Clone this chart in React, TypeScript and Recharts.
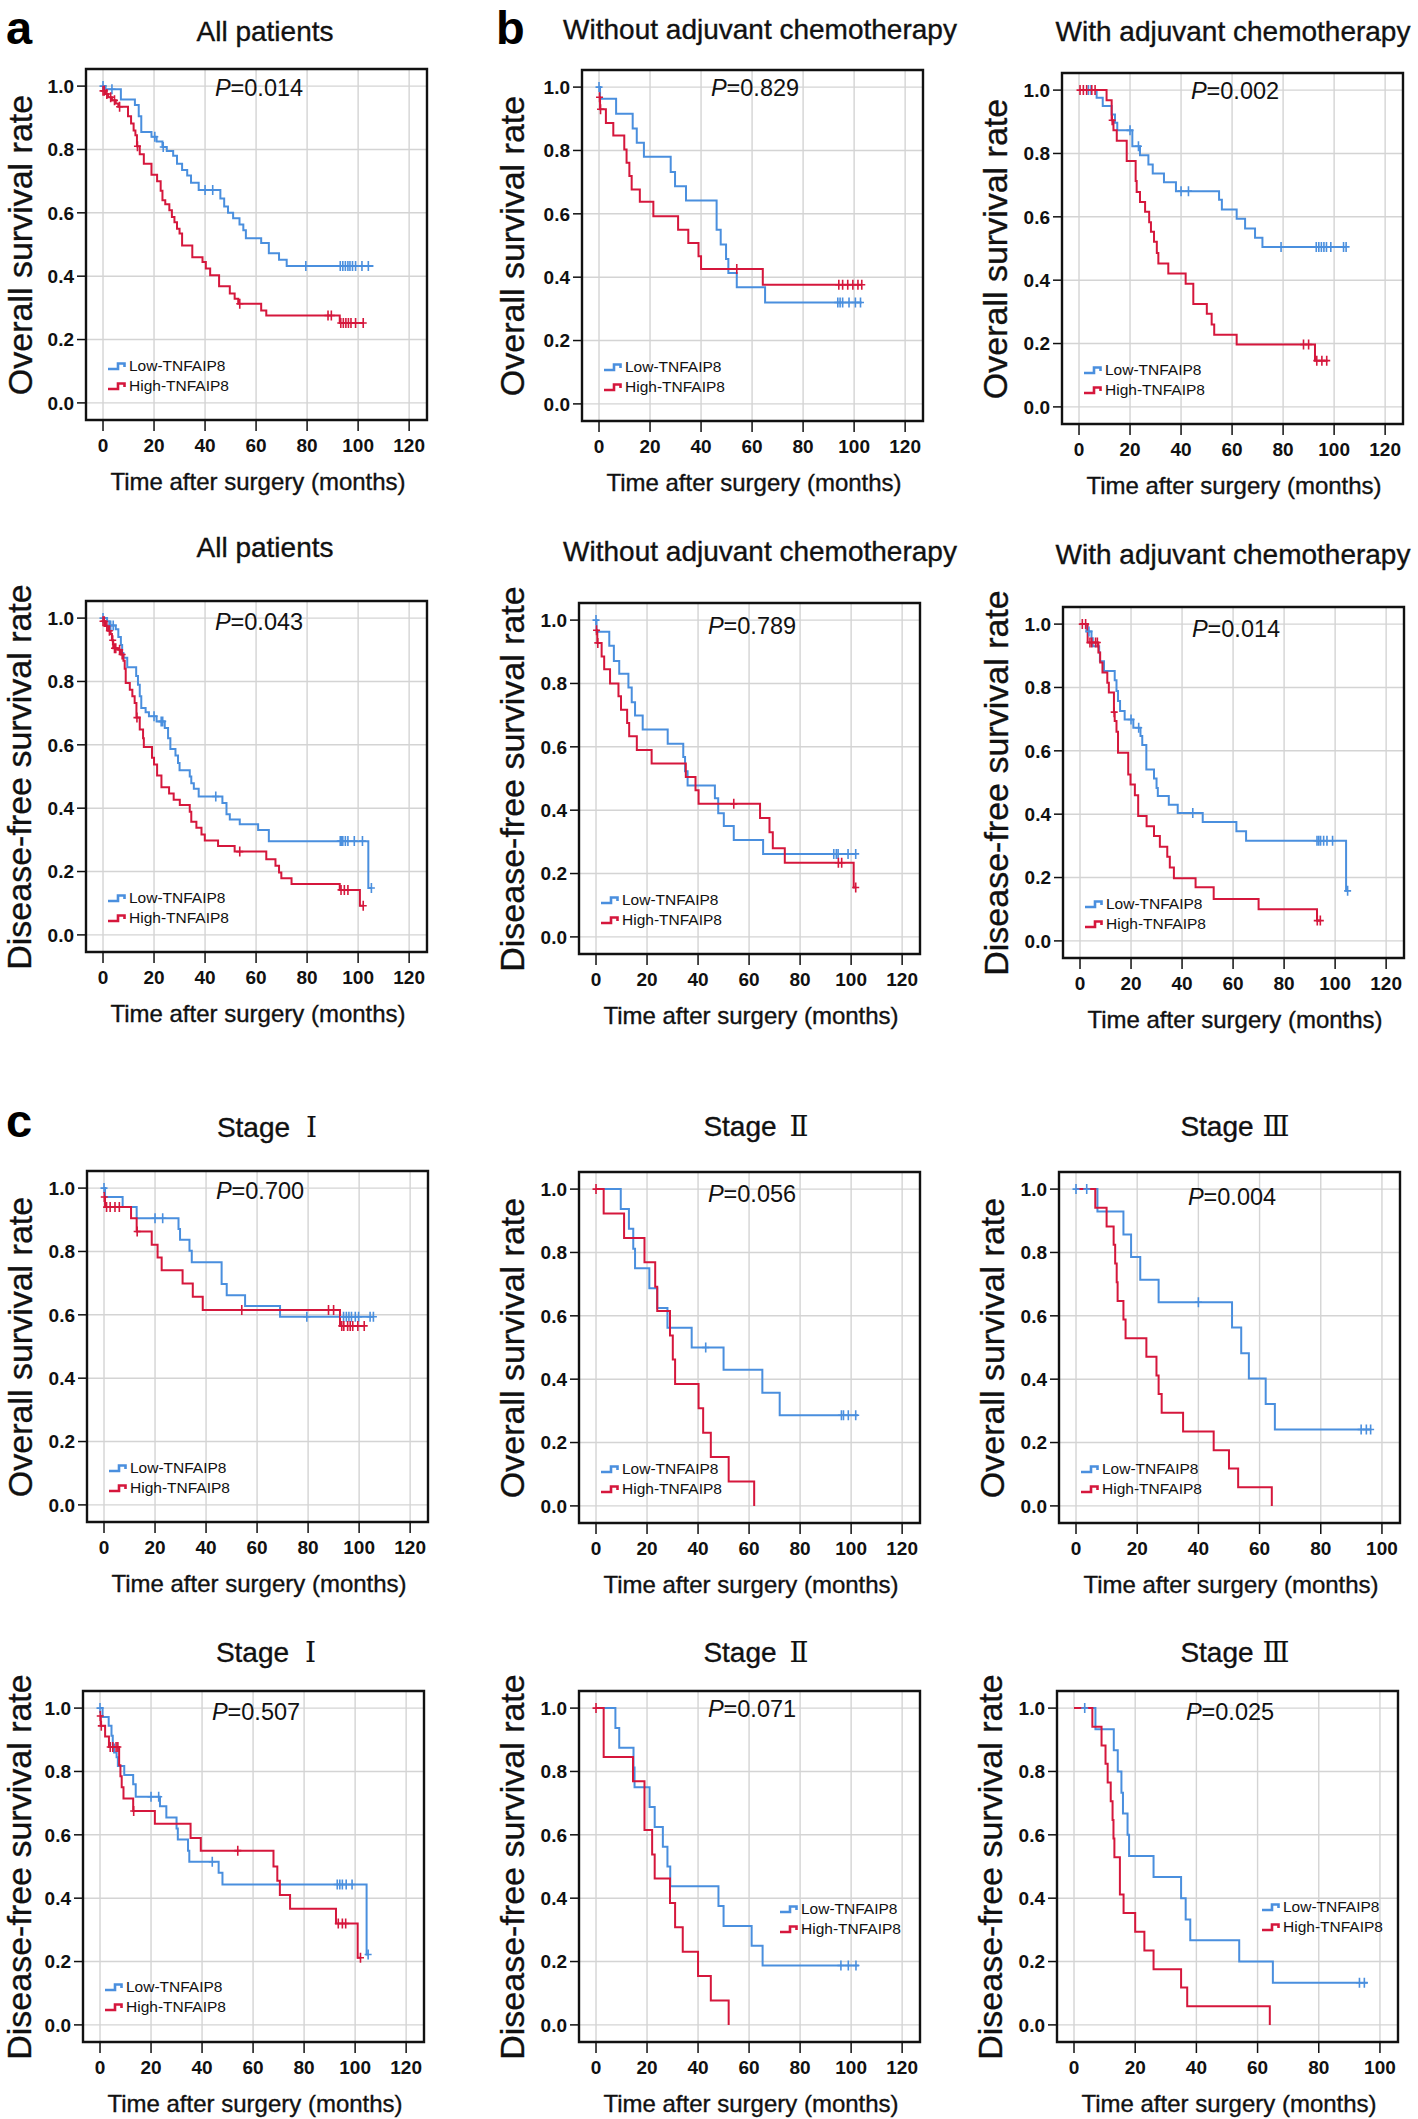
import React from "react";
import {
  CartesianGrid,
  ComposedChart,
  Line,
  ReferenceArea,
  Scatter,
  XAxis,
  YAxis,
} from "recharts";

type Pt = [number, number];

// Kaplan-Meier steps: [month, survival from that month on]; last pair = end of follow-up
// censor lists hold the months of the "+" marks

// a – OS, all patients
const osAllLow: Pt[] = [[0, 1], [1, 0.99], [7, 0.958], [12.5, 0.94], [14, 0.905], [15, 0.855], [19, 0.84], [21, 0.825], [23.3, 0.808], [25, 0.795], [27.5, 0.78], [29, 0.755], [31, 0.735], [33, 0.718], [34.5, 0.695], [37.5, 0.672], [46, 0.645], [47.5, 0.62], [49, 0.6], [51, 0.583], [53.5, 0.563], [55, 0.545], [56, 0.52], [62, 0.505], [65, 0.472], [69, 0.452], [72, 0.432], [106, 0.432]];
const osAllLowCens = [0, 3.5, 20.3, 23.6, 40, 43, 79.5, 93, 94, 95, 96, 96.8, 97.8, 99, 101.5, 104];
const osAllHigh: Pt[] = [[0, 0.985], [0.8, 0.975], [2, 0.965], [3.5, 0.955], [5, 0.945], [6, 0.935], [9.8, 0.905], [11, 0.882], [12, 0.86], [12.7, 0.845], [13.3, 0.81], [14.4, 0.785], [16, 0.755], [19, 0.72], [21.2, 0.7], [22.6, 0.67], [23.3, 0.64], [24.4, 0.627], [26, 0.608], [27, 0.587], [28, 0.57], [29, 0.55], [30, 0.535], [31, 0.497], [35, 0.46], [39, 0.445], [40.3, 0.424], [42, 0.403], [45.5, 0.368], [49.7, 0.345], [51.6, 0.329], [53, 0.313], [62, 0.292], [64, 0.276], [92.8, 0.252], [102, 0.252]];
const osAllHighCens = [0, 0.5, 1.5, 3, 4.5, 6.5, 13.5, 53.6, 88.2, 89.5, 93.2, 94.2, 95.2, 96.2, 97.2, 99, 102];

// b – OS, without adjuvant chemotherapy
const osNoLow: Pt[] = [[0, 1], [0.4, 0.963], [6.7, 0.916], [13.2, 0.869], [14.8, 0.824], [17.6, 0.78], [28.1, 0.732], [29.8, 0.687], [34.1, 0.642], [46.1, 0.55], [47.7, 0.503], [49.8, 0.457], [50.7, 0.413], [54, 0.368], [65.1, 0.32], [103, 0.32]];
const osNoLowCens = [0, 93.6, 94.5, 95.5, 98, 100.5, 102.5];
const osNoHigh: Pt[] = [[0, 0.968], [0.4, 0.93], [2.7, 0.887], [5.6, 0.847], [9.9, 0.803], [10.8, 0.761], [11.9, 0.719], [12.8, 0.677], [16, 0.638], [21.3, 0.592], [31, 0.55], [35, 0.508], [39, 0.466], [40, 0.426], [64.2, 0.376], [103, 0.376]];
const osNoHighCens = [0.2, 0.6, 54, 94, 95.5, 97.5, 99.5, 101.5, 103];

// b – OS, with adjuvant chemotherapy
const osChLow: Pt[] = [[0, 1], [6.9, 0.976], [9.3, 0.95], [12.8, 0.923], [14.1, 0.897], [15, 0.873], [20.9, 0.823], [23.9, 0.794], [27.2, 0.765], [28.9, 0.737], [33.3, 0.709], [38, 0.681], [54.9, 0.654], [56, 0.623], [61.8, 0.594], [65.1, 0.563], [69, 0.534], [71.9, 0.505], [105, 0.505]];
const osChLowCens = [3.7, 4.7, 20, 23.3, 40, 42.9, 79.2, 93, 94, 95, 96, 97, 98.7, 103.7, 104.7];
const osChHigh: Pt[] = [[0, 1], [10.8, 0.968], [12.8, 0.905], [13.5, 0.873], [14.8, 0.84], [18.7, 0.776], [22.2, 0.713], [22.6, 0.678], [23.9, 0.647], [25.9, 0.616], [27.5, 0.583], [28.2, 0.553], [29.4, 0.521], [30.5, 0.486], [31.1, 0.453], [35, 0.421], [41.8, 0.389], [44.8, 0.325], [50.1, 0.294], [52, 0.26], [53, 0.228], [61.8, 0.197], [92.5, 0.146], [97.5, 0.146]];
const osChHighCens = [0.4, 1.7, 3, 5, 6.3, 13, 88, 90, 93.2, 95.2, 97.1];

// a – DFS, all patients
const dfsAllLow: Pt[] = [[0, 1], [1.6, 0.99], [2.5, 0.977], [5, 0.965], [6, 0.94], [7, 0.915], [7.5, 0.89], [8, 0.875], [9.5, 0.845], [13, 0.817], [13.7, 0.79], [14.4, 0.753], [15, 0.716], [16.7, 0.703], [18, 0.69], [21, 0.674], [24.2, 0.653], [25.5, 0.621], [26.4, 0.587], [28.4, 0.566], [29.4, 0.543], [30, 0.52], [34, 0.5], [34.6, 0.479], [35.6, 0.461], [37.5, 0.437], [46.8, 0.416], [48.4, 0.381], [49.7, 0.364], [53.6, 0.349], [60.8, 0.331], [65, 0.296], [104, 0.148], [105.2, 0.148]];
const dfsAllLowCens = [0, 3, 4, 20, 22.8, 23.4, 44.2, 93, 93.5, 94, 95, 96, 98.5, 101.7, 105.2];
const dfsAllHigh: Pt[] = [[0, 0.99], [0.8, 0.975], [2, 0.96], [3, 0.95], [3.5, 0.93], [4, 0.905], [6, 0.9], [7, 0.885], [8, 0.865], [8.5, 0.84], [8.9, 0.795], [10.5, 0.774], [11.5, 0.753], [12.4, 0.732], [13.1, 0.686], [14.4, 0.648], [15.7, 0.621], [16, 0.593], [19.2, 0.559], [20, 0.538], [21.2, 0.503], [22.9, 0.466], [25.9, 0.446], [27.7, 0.427], [30.1, 0.41], [34, 0.389], [34.6, 0.357], [36.6, 0.338], [38.6, 0.317], [39.9, 0.298], [45.1, 0.281], [51.6, 0.263], [64, 0.239], [67.6, 0.218], [69, 0.197], [69.9, 0.179], [73.9, 0.161], [92.8, 0.142], [100.7, 0.092], [102, 0.092]];
const dfsAllHighCens = [0, 0.5, 1.5, 2.5, 3.8, 4.5, 5, 6.5, 7.5, 13.3, 53.6, 93.3, 94.6, 96, 102];

// b – DFS, without adjuvant chemotherapy
const dfsNoLow: Pt[] = [[0, 1], [0.2, 0.963], [5.2, 0.919], [7, 0.871], [9.1, 0.831], [12.7, 0.787], [14, 0.741], [15.3, 0.699], [18.3, 0.655], [28.1, 0.61], [34.2, 0.568], [34.9, 0.523], [35.9, 0.478], [46.6, 0.438], [47.9, 0.39], [50.1, 0.35], [54, 0.306], [65.5, 0.262], [102, 0.262]];
const dfsNoLowCens = [0, 93.2, 94.2, 94.9, 98.8, 101.8];
const dfsNoHigh: Pt[] = [[0, 0.968], [0.5, 0.928], [2.2, 0.885], [3.2, 0.845], [5.5, 0.8], [8.8, 0.76], [9.8, 0.717], [12.2, 0.675], [13, 0.633], [16, 0.59], [21.8, 0.547], [35.2, 0.505], [39, 0.463], [40.2, 0.42], [64.3, 0.375], [68, 0.33], [69.3, 0.28], [74, 0.234], [101, 0.156], [102, 0.156]];
const dfsNoHighCens = [0.2, 0.7, 54, 95, 96.3, 101.8];

// b – DFS, with adjuvant chemotherapy
const dfsChLow: Pt[] = [[0, 1], [2.5, 0.977], [4.5, 0.955], [5, 0.93], [7.5, 0.91], [7.8, 0.883], [9.4, 0.852], [13.6, 0.823], [14.3, 0.789], [14.9, 0.757], [15.7, 0.726], [17.5, 0.699], [20.9, 0.673], [23.7, 0.647], [24.4, 0.618], [26, 0.541], [29, 0.513], [30, 0.483], [30.5, 0.457], [34.8, 0.43], [38.3, 0.404], [48.1, 0.375], [61.3, 0.346], [65.1, 0.316], [104.3, 0.158], [104.9, 0.158]];
const dfsChLowCens = [3.5, 20, 23, 44.2, 92.9, 93.6, 94.3, 95.5, 96.8, 99, 104.9];
const dfsChHigh: Pt[] = [[0, 1], [3, 0.942], [7.2, 0.91], [7.9, 0.879], [8.8, 0.847], [10.7, 0.815], [11.3, 0.784], [13.3, 0.722], [13.6, 0.694], [14.3, 0.66], [14.9, 0.594], [18.9, 0.525], [19.8, 0.494], [21.5, 0.46], [22.8, 0.394], [26.1, 0.362], [29, 0.331], [31.3, 0.297], [34.2, 0.266], [35.2, 0.232], [36.8, 0.198], [45.3, 0.169], [52.4, 0.132], [70, 0.1], [92.9, 0.064], [94.5, 0.064]];
const dfsChHighCens = [0.9, 2.2, 3.9, 4.6, 6.1, 6.8, 13.4, 93, 94.2];

// c – OS by stage
const osS1Low: Pt[] = [[0, 1], [0.4, 0.972], [7.3, 0.94], [12.8, 0.905], [29.2, 0.871], [29.8, 0.837], [33.5, 0.802], [34.4, 0.766], [46.1, 0.697], [48.1, 0.662], [55.3, 0.628], [69, 0.594], [105.6, 0.594]];
const osS1LowCens = [0, 20, 23, 79.5, 93.9, 95, 96, 97, 98.5, 99.8, 104.3, 105.6];
const osS1High: Pt[] = [[0, 0.972], [0.4, 0.94], [10.6, 0.905], [12.8, 0.863], [18.7, 0.821], [21, 0.781], [22.6, 0.741], [30.8, 0.699], [34.8, 0.657], [38.7, 0.615], [92.5, 0.565], [102, 0.565]];
const osS1HighCens = [0.1, 1, 2.4, 4.3, 6, 13, 54, 88, 90, 93.2, 94, 95.5, 96.5, 97.5, 99.5, 102];

const osS2Low: Pt[] = [[0, 1], [9.7, 0.937], [12.9, 0.875], [14.6, 0.812], [15.3, 0.75], [20.9, 0.687], [24, 0.625], [28, 0.5625], [37.5, 0.5], [50, 0.43], [65.2, 0.357], [72, 0.286], [102.7, 0.286]];
const osS2LowCens = [43, 96.2, 97, 98.9, 101.8];
const osS2High: Pt[] = [[0, 1], [3, 0.923], [11, 0.846], [19, 0.769], [23.2, 0.692], [24, 0.615], [29, 0.538], [30.1, 0.462], [31, 0.385], [40.2, 0.308], [42, 0.231], [45, 0.154], [52, 0.077], [62, 0]];
const osS2HighCens = [0];

const osS3Low: Pt[] = [[0, 1], [7, 0.929], [15.5, 0.857], [18, 0.786], [21, 0.714], [27, 0.643], [51, 0.563], [54, 0.482], [56.5, 0.402], [62, 0.322], [65, 0.241], [96.5, 0.241]];
const osS3LowCens = [0, 3.5, 40, 93.2, 94.9, 96.3];
const osS3High: Pt[] = [[0, 1], [6.3, 0.941], [10, 0.882], [12.3, 0.824], [12.8, 0.765], [13.3, 0.706], [13.6, 0.647], [15.5, 0.588], [16.2, 0.529], [23, 0.471], [26.3, 0.412], [27, 0.353], [28, 0.294], [35, 0.235], [45, 0.176], [50, 0.118], [53, 0.059], [64, 0]];
const osS3HighCens: number[] = [];

// c – DFS by stage
const dfsS1Low: Pt[] = [[0, 1], [1, 0.972], [3.4, 0.944], [4.5, 0.913], [5, 0.885], [5.5, 0.86], [6.5, 0.845], [7, 0.817], [9.5, 0.789], [13, 0.76], [14, 0.72], [23.5, 0.69], [26, 0.655], [30, 0.62], [30.5, 0.585], [34.5, 0.55], [35, 0.515], [46.5, 0.48], [48, 0.443], [104.5, 0.222], [105.1, 0.222]];
const dfsS1LowCens = [0, 20, 23, 44, 93, 94, 95, 96.5, 98.8, 105.1];
const dfsS1High: Pt[] = [[0, 0.975], [0.3, 0.944], [2, 0.91], [3.5, 0.877], [7.5, 0.82], [8, 0.785], [8.5, 0.75], [9.2, 0.715], [13, 0.675], [21.5, 0.635], [35.5, 0.59], [39.5, 0.55], [68, 0.5], [69.5, 0.455], [70.5, 0.41], [74.5, 0.367], [92.5, 0.32], [101, 0.212], [102.1, 0.212]];
const dfsS1HighCens = [0.1, 0.5, 4, 5, 6.3, 7, 13.2, 54, 93.4, 95, 96.3, 102.1];

const dfsS2Low: Pt[] = [[0, 1], [7.6, 0.9375], [9.1, 0.875], [14.7, 0.8125], [15.1, 0.75], [21, 0.6875], [23, 0.625], [26.2, 0.5625], [28, 0.5], [29.1, 0.4375], [48, 0.375], [50, 0.3125], [61, 0.25], [65.3, 0.1875], [103, 0.1875]];
const dfsS2LowCens = [96, 98.9, 101.9];
const dfsS2High: Pt[] = [[0, 1], [3, 0.846], [14.5, 0.769], [19, 0.615], [22, 0.538], [23, 0.462], [29, 0.385], [31, 0.308], [34, 0.231], [40, 0.154], [45, 0.077], [52, 0]];
const dfsS2HighCens = [0];

const dfsS3Low: Pt[] = [[0, 1], [7, 0.933], [13, 0.867], [14.3, 0.8], [15.5, 0.733], [16, 0.667], [17.5, 0.6], [18, 0.533], [26, 0.467], [35, 0.4], [36.5, 0.333], [38, 0.267], [54, 0.2], [65, 0.133], [96, 0.133]];
const dfsS3LowCens = [3.5, 93.3, 94.9];
const dfsS3High: Pt[] = [[0, 1], [6, 0.941], [9, 0.882], [10.3, 0.824], [11, 0.765], [12, 0.706], [12.6, 0.647], [12.9, 0.588], [13.2, 0.529], [15, 0.412], [16.2, 0.353], [20, 0.294], [23, 0.235], [26, 0.176], [35, 0.118], [37, 0.059], [64, 0]];
const dfsS3HighCens: number[] = [];

const xTicks120 = [0, 20, 40, 60, 80, 100, 120];
const xTicks100 = [0, 20, 40, 60, 80, 100];
const yTicks = [0, 0.2, 0.4, 0.6, 0.8, 1.0];

const OS_LABEL = "Overall survival rate";
const DFS_LABEL = "Disease-free survival rate";
const X_LABEL = "Time after surgery (months)";
const LOW_NAME = "Low-TNFAIP8";
const HIGH_NAME = "High-TNFAIP8";

const BLUE = "#4a8fde";
const RED = "#d5173c";
const INK = "#111";
const FONT = "'Liberation Sans', Arial, Helvetica, sans-serif";

const FRAME_W = 341;
const FRAME_H = 351;
const Y_AXIS_W = 60;
const X_AXIS_H = 40;
const Y_DOMAIN: [number, number] = [-0.054, 1.054];

type PanelDef = {
  fx: number;
  fy: number;
  xMax: 100 | 120;
  title: string;
  titleDx: number;
  titleDy: number;
  yLabel: string;
  yLabelDx: number;
  p: string;
  pDy: number;
  low: Pt[];
  lowCens: number[];
  high: Pt[];
  highCens: number[];
  legend: [number, number];
};

const PANELS: PanelDef[] = [
  { fx: 86, fy: 69, xMax: 120, title: "All patients", titleDx: 179, titleDy: -37, yLabel: OS_LABEL, yLabelDx: -66, p: "0.014", pDy: 20, low: osAllLow, lowCens: osAllLowCens, high: osAllHigh, highCens: osAllHighCens, legend: [22, 297] },
  { fx: 582, fy: 70, xMax: 120, title: "Without adjuvant chemotherapy", titleDx: 178, titleDy: -40, yLabel: OS_LABEL, yLabelDx: -70, p: "0.829", pDy: 19, low: osNoLow, lowCens: osNoLowCens, high: osNoHigh, highCens: osNoHighCens, legend: [22, 297] },
  { fx: 1062, fy: 73, xMax: 120, title: "With adjuvant chemotherapy", titleDx: 171, titleDy: -41, yLabel: OS_LABEL, yLabelDx: -67, p: "0.002", pDy: 19, low: osChLow, lowCens: osChLowCens, high: osChHigh, highCens: osChHighCens, legend: [22, 297] },
  { fx: 86, fy: 601, xMax: 120, title: "All patients", titleDx: 179, titleDy: -53, yLabel: DFS_LABEL, yLabelDx: -67, p: "0.043", pDy: 22, low: dfsAllLow, lowCens: dfsAllLowCens, high: dfsAllHigh, highCens: dfsAllHighCens, legend: [22, 297] },
  { fx: 579, fy: 603, xMax: 120, title: "Without adjuvant chemotherapy", titleDx: 181, titleDy: -51, yLabel: DFS_LABEL, yLabelDx: -67, p: "0.789", pDy: 24, low: dfsNoLow, lowCens: dfsNoLowCens, high: dfsNoHigh, highCens: dfsNoHighCens, legend: [22, 297] },
  { fx: 1063, fy: 607, xMax: 120, title: "With adjuvant chemotherapy", titleDx: 170, titleDy: -52, yLabel: DFS_LABEL, yLabelDx: -67, p: "0.014", pDy: 23, low: dfsChLow, lowCens: dfsChLowCens, high: dfsChHigh, highCens: dfsChHighCens, legend: [22, 297] },
  { fx: 87, fy: 1171, xMax: 120, title: "Stage Ⅰ", titleDx: 180, titleDy: -43, yLabel: OS_LABEL, yLabelDx: -67, p: "0.700", pDy: 21, low: osS1Low, lowCens: osS1LowCens, high: osS1High, highCens: osS1HighCens, legend: [22, 297] },
  { fx: 579, fy: 1172, xMax: 120, title: "Stage Ⅱ", titleDx: 177, titleDy: -45, yLabel: OS_LABEL, yLabelDx: -67, p: "0.056", pDy: 23, low: osS2Low, lowCens: osS2LowCens, high: osS2High, highCens: osS2HighCens, legend: [22, 297] },
  { fx: 1059, fy: 1172, xMax: 100, title: "Stage Ⅲ", titleDx: 176, titleDy: -45, yLabel: OS_LABEL, yLabelDx: -67, p: "0.004", pDy: 26, low: osS3Low, lowCens: osS3LowCens, high: osS3High, highCens: osS3HighCens, legend: [22, 297] },
  { fx: 83, fy: 1691, xMax: 120, title: "Stage Ⅰ", titleDx: 183, titleDy: -38, yLabel: DFS_LABEL, yLabelDx: -64, p: "0.507", pDy: 22, low: dfsS1Low, lowCens: dfsS1LowCens, high: dfsS1High, highCens: dfsS1HighCens, legend: [22, 296] },
  { fx: 579, fy: 1691, xMax: 120, title: "Stage Ⅱ", titleDx: 177, titleDy: -38, yLabel: DFS_LABEL, yLabelDx: -67, p: "0.071", pDy: 19, low: dfsS2Low, lowCens: dfsS2LowCens, high: dfsS2High, highCens: dfsS2HighCens, legend: [201, 218] },
  { fx: 1057, fy: 1691, xMax: 100, title: "Stage Ⅲ", titleDx: 178, titleDy: -38, yLabel: DFS_LABEL, yLabelDx: -67, p: "0.025", pDy: 22, low: dfsS3Low, lowCens: dfsS3LowCens, high: dfsS3High, highCens: dfsS3HighCens, legend: [205, 216] },
];

const toRows = (curve: Pt[]) => curve.map(([t, s]) => ({ t, s }));

// put each censor mark on the step the curve is at that month
const censorRows = (curve: Pt[], times: number[]) =>
  times.map((t) => {
    let s = curve[0][1];
    for (const [ct, cs] of curve) if (ct <= t) s = cs;
    return { t, s };
  });

const censorShape = (color: string) => (props: any) => {
  const { cx, cy } = props;
  if (cx == null || cy == null) return <g />;
  return (
    <path
      d={`M${cx},${cy - 5}V${cy + 5}M${cx - 3.5},${cy}H${cx + 3.5}`}
      stroke={color}
      strokeWidth={1.6}
      fill="none"
    />
  );
};

function Centered({
  x,
  y,
  size,
  rotate = false,
  heavy = false,
  children,
}: {
  x: number;
  y: number;
  size: number;
  rotate?: boolean;
  heavy?: boolean;
  children: React.ReactNode;
}) {
  return (
    <div
      style={{
        position: "absolute",
        left: x,
        top: y,
        fontSize: size,
        lineHeight: 1,
        whiteSpace: "nowrap",
        color: INK,
        WebkitTextStroke: heavy ? `0.35px ${INK}` : undefined,
        transform: `translate(-50%, -50%)${rotate ? " rotate(-90deg)" : ""}`,
      }}
    >
      {children}
    </div>
  );
}

function LegendRow({ color, label, x, y }: { color: string; label: string; x: number; y: number }) {
  return (
    <div
      style={{
        position: "absolute",
        left: x,
        top: y - 9,
        height: 18,
        display: "flex",
        alignItems: "center",
        fontSize: 15.5,
        color: INK,
        whiteSpace: "nowrap",
      }}
    >
      <svg width={18} height={10} style={{ marginRight: 3 }}>
        <path d="M0,8H10V2.5H16.5V6" stroke={color} strokeWidth={2.6} fill="none" />
      </svg>
      {label}
    </div>
  );
}

const numeralGap: Record<string, number> = { "Ⅰ": 16, "Ⅱ": 13, "Ⅲ": 9 };

function Title({ text }: { text: string }) {
  if (!text.startsWith("Stage")) return <>{text}</>;
  const numeral = text.slice(6);
  return (
    <>
      Stage
      <span
        style={{
          fontFamily: "'DejaVu Serif', 'Liberation Serif', serif",
          marginLeft: numeralGap[numeral] ?? 12,
          lineHeight: 1,
          WebkitTextStroke: "0px",
        }}
      >
        {numeral}
      </span>
    </>
  );
}

function Panel({ def }: { def: PanelDef }) {
  const xMin = def.xMax === 120 ? -6.67 : -5.56;
  const xMaxDom = def.xMax === 120 ? 127 : 105.9;
  const ticks = def.xMax === 120 ? xTicks120 : xTicks100;
  const tickStyle = { fill: INK, fontSize: 19, fontWeight: "bold" as const, fontFamily: FONT };

  return (
    <div style={{ position: "absolute", left: def.fx, top: def.fy, width: FRAME_W, height: FRAME_H }}>
      <div style={{ position: "absolute", left: -Y_AXIS_W, top: -2 }}>
        <ComposedChart
          width={Y_AXIS_W + FRAME_W + 2}
          height={FRAME_H + 2 + X_AXIS_H}
          margin={{ top: 2, right: 2, bottom: 0, left: 0 }}
        >
          <CartesianGrid stroke="#d4d4d4" strokeWidth={1.4} />
          <XAxis
            type="number"
            dataKey="t"
            domain={[xMin, xMaxDom]}
            allowDataOverflow
            ticks={ticks}
            interval={0}
            height={X_AXIS_H}
            axisLine={false}
            tickSize={11}
            tickMargin={8}
            tickLine={{ stroke: INK, strokeWidth: 1.5 }}
            tick={tickStyle}
          />
          <YAxis
            type="number"
            domain={Y_DOMAIN}
            allowDataOverflow
            ticks={yTicks}
            interval={0}
            width={Y_AXIS_W}
            axisLine={false}
            tickSize={9}
            tickMargin={3}
            tickLine={{ stroke: INK, strokeWidth: 1.5 }}
            tick={tickStyle}
            tickFormatter={(v: number) => v.toFixed(1)}
          />
          <ReferenceArea
            x1={xMin}
            x2={xMaxDom}
            y1={Y_DOMAIN[0]}
            y2={Y_DOMAIN[1]}
            fill="none"
            fillOpacity={0}
            stroke={INK}
            strokeWidth={2.4}
            ifOverflow="visible"
          />
          <Line
            data={toRows(def.low)}
            dataKey="s"
            type="stepAfter"
            stroke={BLUE}
            strokeWidth={2}
            dot={false}
            activeDot={false}
            isAnimationActive={false}
          />
          <Line
            data={toRows(def.high)}
            dataKey="s"
            type="stepAfter"
            stroke={RED}
            strokeWidth={2}
            dot={false}
            activeDot={false}
            isAnimationActive={false}
          />
          <Scatter
            data={censorRows(def.low, def.lowCens)}
            dataKey="s"
            shape={censorShape(BLUE)}
            isAnimationActive={false}
          />
          <Scatter
            data={censorRows(def.high, def.highCens)}
            dataKey="s"
            shape={censorShape(RED)}
            isAnimationActive={false}
          />
        </ComposedChart>
      </div>

      <Centered x={def.titleDx} y={def.titleDy} size={28} heavy>
        <Title text={def.title} />
      </Centered>
      <Centered x={173} y={def.pDy} size={23.5}>
        <i>P</i>={def.p}
      </Centered>
      <Centered x={def.yLabelDx} y={FRAME_H / 2} size={34} rotate heavy>
        {def.yLabel}
      </Centered>
      <Centered x={172} y={413} size={24} heavy>
        {X_LABEL}
      </Centered>
      <LegendRow color={BLUE} label={LOW_NAME} x={def.legend[0]} y={def.legend[1]} />
      <LegendRow color={RED} label={HIGH_NAME} x={def.legend[0]} y={def.legend[1] + 20} />
    </div>
  );
}

const letterStyle: React.CSSProperties = {
  position: "absolute",
  fontSize: 47,
  fontWeight: "bold",
  lineHeight: 1,
  color: "#000",
};

export default function App() {
  return (
    <div
      style={{
        position: "absolute",
        left: 0,
        top: 0,
        width: 1418,
        height: 2119,
        background: "#fff",
        fontFamily: FONT,
        overflow: "hidden",
      }}
    >
      <div style={{ ...letterStyle, left: 6, top: 4 }}>a</div>
      <div style={{ ...letterStyle, left: 496, top: 4 }}>b</div>
      <div style={{ ...letterStyle, left: 6, top: 1097 }}>c</div>
      {PANELS.map((def, i) => (
        <Panel key={i} def={def} />
      ))}
    </div>
  );
}
